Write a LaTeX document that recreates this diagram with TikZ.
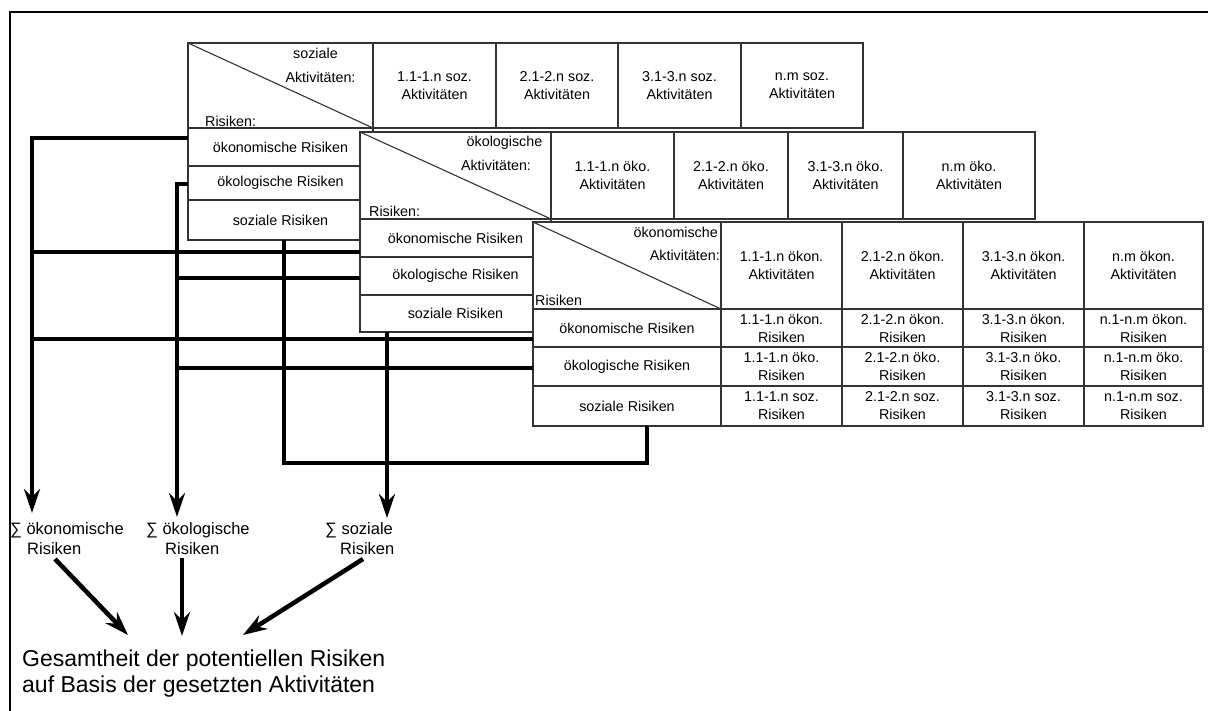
\documentclass[tikz,border=0pt]{standalone}
\usepackage{fontspec}
\setmainfont{Liberation Sans}
\usetikzlibrary{arrows.meta,calc}
% one table cell: name, x1, y1, x2, y2, text
\newcommand{\mkcell}[6]{\node[cell,anchor=north west,minimum width={(#4)-(#2)},minimum height={(#5)-(#3)}] (#1) at (#2,#3) {#6};}
\begin{document}
\begin{tikzpicture}[x=1pt,y=-1pt,
  grid/.style={draw=black!80, line width=1.1pt},
  cell/.style={grid, fill=white, inner sep=0pt, outer sep=0pt, align=center,
    font=\fontsize{14.3}{18}\selectfont},
  lbl/.style={inner sep=0pt, font=\fontsize{14.3}{18}\selectfont},
  conn/.style={line width=4.5pt, draw=black},
  arr/.style={-{Stealth[length=24pt,width=16pt,inset=8pt]}},
  sumlbl/.style={inner sep=0pt, align=left, anchor=north west,
    font=\fontsize{16.5}{20.5}\selectfont},
]
\useasboundingbox (0,0) rectangle (1208,711);
\fill[white] (0,0) rectangle (1208,711);

% frame
\draw[line width=2pt] (10,711) -- (10,12) -- (1208,12);

% social activities
\mkcell{t1h}{188}{43}{373}{128}{}
\draw[grid] (t1h.north west) -- (t1h.south east);
\node[lbl] (t1a) at (315.5,53) {soziale};
\node[lbl] (t1b) at (320.5,77) {Aktivitäten:};
\node[lbl,anchor=west] (t1c) at (205,121) {Risiken:};
\mkcell{t1c1}{373}{43}{496}{128}{1.1-1.n soz.\\Aktivitäten}
\mkcell{t1c2}{496}{43}{618}{128}{2.1-2.n soz.\\Aktivitäten}
\mkcell{t1c3}{618}{43}{741}{128}{3.1-3.n soz.\\Aktivitäten}
\mkcell{t1c4}{741}{43}{863}{128}{n.m soz.\\Aktivitäten}
\mkcell{t1r1}{188}{128}{373}{166}{ökonomische Risiken}
\mkcell{t1r2}{188}{166}{373}{200}{ökologische Risiken}
\mkcell{t1r3}{188}{200}{373}{240}{soziale Risiken}

% ecological activities
\mkcell{t2h}{360}{132}{551}{219}{}
\draw[grid] (t2h.north west) -- (t2h.south east);
\node[lbl] (t2a) at (504.5,143) {ökologische};
\node[lbl] (t2b) at (496,165) {Aktivitäten:};
\node[lbl,anchor=west] (t2c) at (369,211) {Risiken:};
\mkcell{t2c1}{551}{132}{674}{219}{1.1-1.n öko.\\Aktivitäten}
\mkcell{t2c2}{674}{132}{788}{219}{2.1-2.n öko.\\Aktivitäten}
\mkcell{t2c3}{788}{132}{903}{219}{3.1-3.n öko.\\Aktivitäten}
\mkcell{t2c4}{903}{132}{1035}{219}{n.m öko.\\Aktivitäten}
\mkcell{t2r1}{360}{219}{551}{257}{ökonomische Risiken}
\mkcell{t2r2}{360}{257}{551}{295}{ökologische Risiken}
\mkcell{t2r3}{360}{295}{551}{332}{soziale Risiken}

% economic activities
\mkcell{t3h}{533}{222}{721}{309}{}
\draw[grid] (t3h.north west) -- (t3h.south east);
\node[lbl,anchor=east] (t3a) at (718,232) {ökonomische};
\node[lbl,anchor=east] (t3b) at (720,255) {Aktivitäten:};
\node[lbl,anchor=west] (t3c) at (535,300) {Risiken};
\mkcell{t3c1}{721}{222}{842}{309}{1.1-1.n ökon.\\Aktivitäten}
\mkcell{t3c2}{842}{222}{963}{309}{2.1-2.n ökon.\\Aktivitäten}
\mkcell{t3c3}{963}{222}{1084}{309}{3.1-3.n ökon.\\Aktivitäten}
\mkcell{t3c4}{1084}{222}{1203}{309}{n.m ökon.\\Aktivitäten}
\mkcell{t3r1}{533}{309}{721}{347}{ökonomische Risiken}
\mkcell{t3r2}{533}{347}{721}{386}{ökologische Risiken}
\mkcell{t3r3}{533}{386}{721}{426}{soziale Risiken}
\mkcell{t3a1}{721}{309}{842}{347}{1.1-1.n ökon.\\Risiken}
\mkcell{t3a2}{842}{309}{963}{347}{2.1-2.n ökon.\\Risiken}
\mkcell{t3a3}{963}{309}{1084}{347}{3.1-3.n ökon.\\Risiken}
\mkcell{t3a4}{1084}{309}{1203}{347}{n.1-n.m ökon.\\Risiken}
\mkcell{t3b1}{721}{347}{842}{386}{1.1-1.n öko.\\Risiken}
\mkcell{t3b2}{842}{347}{963}{386}{2.1-2.n öko.\\Risiken}
\mkcell{t3b3}{963}{347}{1084}{386}{3.1-3.n öko.\\Risiken}
\mkcell{t3b4}{1084}{347}{1203}{386}{n.1-n.m öko.\\Risiken}
\mkcell{t3s1}{721}{386}{842}{426}{1.1-1.n soz.\\Risiken}
\mkcell{t3s2}{842}{386}{963}{426}{2.1-2.n soz.\\Risiken}
\mkcell{t3s3}{963}{386}{1084}{426}{3.1-3.n soz.\\Risiken}
\mkcell{t3s4}{1084}{386}{1203}{426}{n.1-n.m soz.\\Risiken}

% sums
\node[sumlbl] (sumoek) at (10,522) {∑ ökonomische\\\hspace*{17pt}Risiken};
\node[sumlbl] (sumoekol) at (146,522) {∑ ökologische\\\hspace*{19pt}Risiken};
\node[sumlbl] (sumsoz) at (325,522) {∑ soziale\\\hspace*{15pt}Risiken};
\coordinate (tipoek) at (32,513);
\coordinate (tipoekol) at (177,517);
\coordinate (tipsoz) at (387,518);

% collecting lines
\draw[conn,arr] (t1r1.west |- 0,138) -| (tipoek);
\draw[conn] (t2r1.west |- 0,252) -- (tipoek |- 0,252);
\draw[conn] (t3r1.west |- 0,339) -- (tipoek |- 0,339);
\draw[conn,arr] (t1r2.west |- 0,184) -| (tipoekol);
\draw[conn] (t2r2.west |- 0,278) -- (tipoekol |- 0,278);
\draw[conn] (t3r2.west |- 0,368) -- (tipoekol |- 0,368);
\draw[conn,arr] (t2r3.south -| tipsoz) -- (tipsoz);
\draw[conn] (t1r3.south -| 284,0) -- (284,463) -| (t3r3.south -| 647,0);

% total
\node[anchor=north west, inner sep=0pt, align=left, font=\fontsize{23}{26}\selectfont]
  (gesamt) at (22,650) {Gesamtheit der potentiellen Risiken\\auf Basis der gesetzten Aktivitäten};
\draw[conn,arr] ($(sumoek.south west)+(45,4)$) -- ($(gesamt.north west)+(106,-15)$);
\draw[conn,arr] ($(sumoekol.south west)+(36,3)$) -- ($(gesamt.north west)+(160,-14)$);
\draw[conn,arr] ($(sumsoz.south west)+(38,4)$) -- ($(gesamt.north west)+(221,-15)$);
\end{tikzpicture}
\end{document}
